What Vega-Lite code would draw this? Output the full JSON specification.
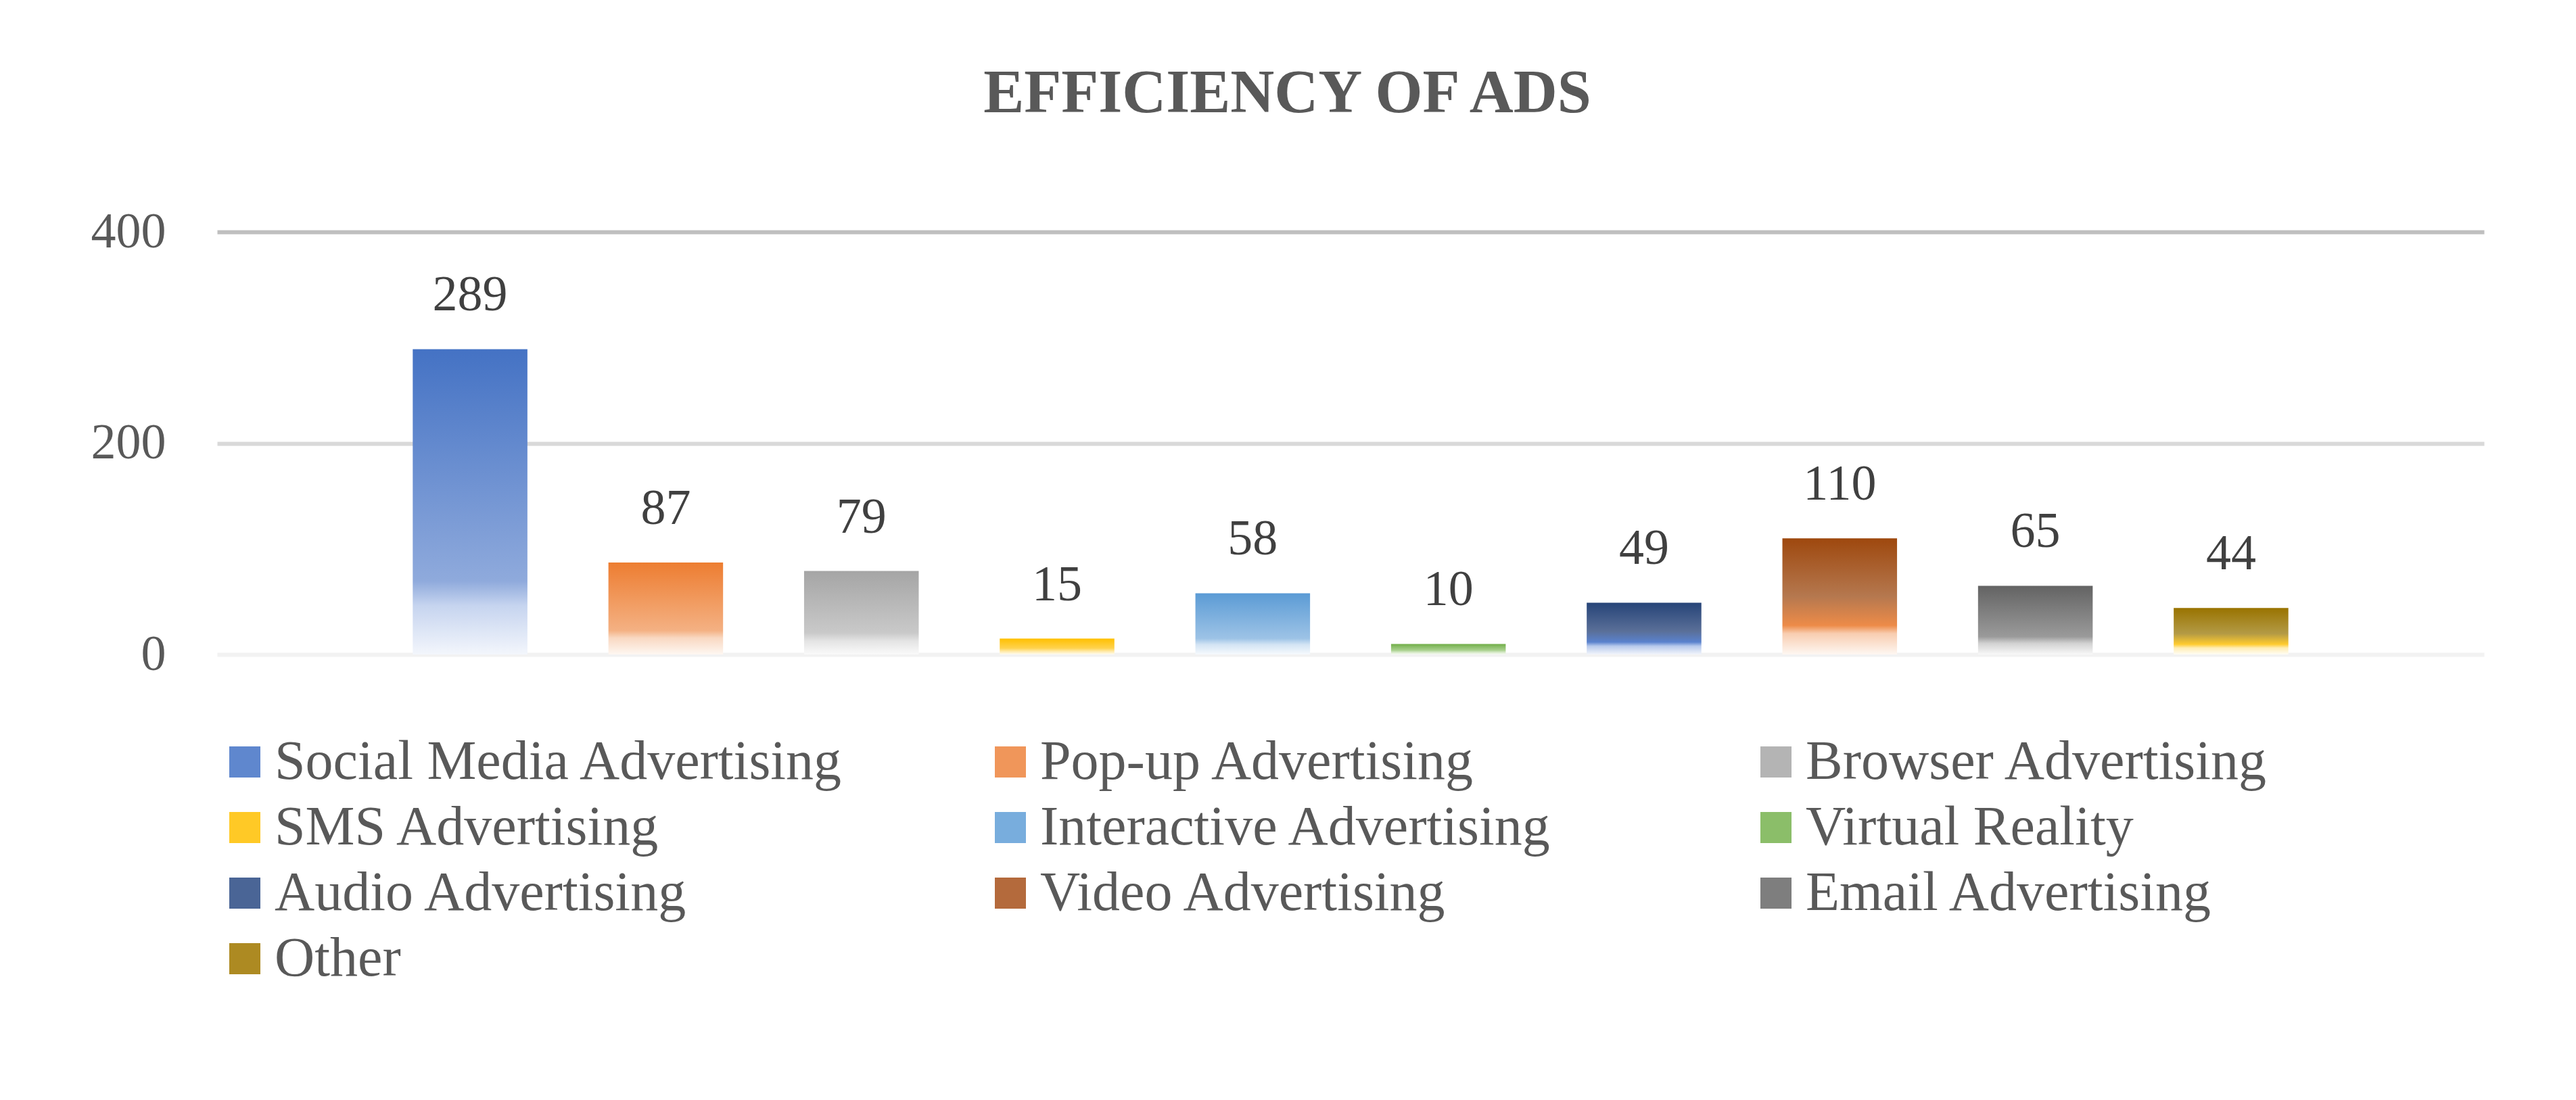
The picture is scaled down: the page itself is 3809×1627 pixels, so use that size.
{
  "$schema": "https://vega.github.io/schema/vega-lite/v6.json",
  "autosize": {"type": "none"},
  "width": 3352,
  "height": 625,
  "padding": {"left": 321, "top": 343, "right": 136, "bottom": 659},
  "background": "#ffffff",
  "params": [
    {
      "name": "grads",
      "expr": "{'Social Media Advertising': {gradient: 'linear', x1: 0, y1: 0, x2: 0, y2: 1, stops: [{offset: 0, color: '#4472C4'}, {offset: 0.76, color: '#8FAADC'}, {offset: 0.84, color: '#C6D4EF'}, {offset: 1, color: '#F3F6FC'}]}, 'Pop-up Advertising': {gradient: 'linear', x1: 0, y1: 0, x2: 0, y2: 1, stops: [{offset: 0, color: '#ED7D31'}, {offset: 0.74, color: '#F4B183'}, {offset: 0.82, color: '#F9D8C1'}, {offset: 1, color: '#FEF7F2'}]}, 'Browser Advertising': {gradient: 'linear', x1: 0, y1: 0, x2: 0, y2: 1, stops: [{offset: 0, color: '#A5A5A5'}, {offset: 0.74, color: '#C9C9C9'}, {offset: 0.84, color: '#E4E4E4'}, {offset: 1, color: '#FAFAFA'}]}, 'SMS Advertising': {gradient: 'linear', x1: 0, y1: 0, x2: 0, y2: 1, stops: [{offset: 0, color: '#FFC000'}, {offset: 0.6, color: '#FFD24D'}, {offset: 0.8, color: '#FFE9A6'}, {offset: 1, color: '#FFFCF2'}]}, 'Interactive Advertising': {gradient: 'linear', x1: 0, y1: 0, x2: 0, y2: 1, stops: [{offset: 0, color: '#5B9BD5'}, {offset: 0.74, color: '#9DC3E6'}, {offset: 0.84, color: '#D3E4F4'}, {offset: 1, color: '#F6FAFD'}]}, 'Virtual Reality': {gradient: 'linear', x1: 0, y1: 0, x2: 0, y2: 1, stops: [{offset: 0, color: '#70AD47'}, {offset: 0.6, color: '#A9D18E'}, {offset: 0.8, color: '#D7EAC9'}, {offset: 1, color: '#F7FBF4'}]}, 'Audio Advertising': {gradient: 'linear', x1: 0, y1: 0, x2: 0, y2: 1, stops: [{offset: 0, color: '#264478'}, {offset: 0.55, color: '#5A6F98'}, {offset: 0.76, color: '#5A82CE'}, {offset: 0.84, color: '#B8CAEC'}, {offset: 1, color: '#F2F5FB'}]}, 'Video Advertising': {gradient: 'linear', x1: 0, y1: 0, x2: 0, y2: 1, stops: [{offset: 0, color: '#9E480E'}, {offset: 0.5, color: '#B5784F'}, {offset: 0.75, color: '#ED8B48'}, {offset: 0.82, color: '#F8CDB0'}, {offset: 1, color: '#FEF7F2'}]}, 'Email Advertising': {gradient: 'linear', x1: 0, y1: 0, x2: 0, y2: 1, stops: [{offset: 0, color: '#636363'}, {offset: 0.74, color: '#9A9A9A'}, {offset: 0.84, color: '#D2D2D2'}, {offset: 1, color: '#F8F8F8'}]}, 'Other': {gradient: 'linear', x1: 0, y1: 0, x2: 0, y2: 1, stops: [{offset: 0, color: '#997300'}, {offset: 0.55, color: '#B39A45'}, {offset: 0.78, color: '#FFCB2E'}, {offset: 0.86, color: '#FFEDB3'}, {offset: 1, color: '#FFFDF5'}]}}"
    }
  ],
  "title": {
    "text": "EFFICIENCY OF ADS",
    "font": "Liberation Serif",
    "fontSize": 90,
    "fontWeight": "bold",
    "color": "#595959",
    "anchor": "middle",
    "frame": "bounds",
    "baseline": "alphabetic",
    "offset": 50
  },
  "data": {
    "values": [
      {"category": "Social Media Advertising", "value": 289},
      {"category": "Pop-up Advertising", "value": 87},
      {"category": "Browser Advertising", "value": 79},
      {"category": "SMS Advertising", "value": 15},
      {"category": "Interactive Advertising", "value": 58},
      {"category": "Virtual Reality", "value": 10},
      {"category": "Audio Advertising", "value": 49},
      {"category": "Video Advertising", "value": 110},
      {"category": "Email Advertising", "value": 65},
      {"category": "Other", "value": 44}
    ]
  },
  "encoding": {
    "x": {
      "field": "category",
      "type": "nominal",
      "sort": null,
      "axis": null,
      "scale": {"paddingInner": 0.414, "paddingOuter": 1.05}
    },
    "y": {
      "field": "value",
      "type": "quantitative",
      "scale": {"domain": [0, 400], "nice": false},
      "axis": {
        "values": [0, 200, 400],
        "title": null,
        "domain": false,
        "ticks": false,
        "labelFont": "Liberation Serif",
        "labelFontSize": 74,
        "labelColor": "#595959",
        "labelPadding": 76,
        "labelBaseline": "middle",
        "gridWidth": 6,
        "gridColor": {
          "condition": [
            {"test": "datum.value === 400", "value": "#bfbfbf"},
            {"test": "datum.value === 0", "value": "#f2f2f2"}
          ],
          "value": "#d9d9d9"
        }
      }
    }
  },
  "layer": [
    {
      "mark": {"type": "bar", "fill": {"expr": "grads[datum.category]"}, "strokeWidth": 0}
    },
    {
      "mark": {"type": "point", "filled": true, "opacity": 0, "size": 1},
      "encoding": {
        "color": {
          "field": "category",
          "type": "nominal",
          "scale": {
            "domain": ["Social Media Advertising", "Pop-up Advertising", "Browser Advertising", "SMS Advertising", "Interactive Advertising", "Virtual Reality", "Audio Advertising", "Video Advertising", "Email Advertising", "Other"],
            "range": ["#5F87CE", "#F0965A", "#B4B4B4", "#FFC926", "#78ADDD", "#8BBE69", "#4A6596", "#B46A3C", "#7E7E7E", "#AD8A22"]
          },
          "legend": {
            "title": null,
            "orient": "none",
            "legendX": 0,
            "legendY": 743,
            "direction": "horizontal",
            "columns": 3,
            "gridAlign": "all",
            "columnPadding": 204,
            "rowPadding": 15,
            "symbolType": "square",
            "symbolSize": 2116,
            "symbolStrokeWidth": 0,
            "symbolOpacity": 1,
            "labelFont": "Liberation Serif",
            "labelFontSize": 82,
            "labelColor": "#595959",
            "labelOffset": 3,
            "labelLimit": 3000,
            "padding": 0
          }
        }
      }
    },
    {
      "mark": {
        "type": "text",
        "font": "Liberation Serif",
        "fontSize": 74,
        "color": "#404040",
        "align": "center",
        "baseline": "alphabetic",
        "dy": -57
      },
      "encoding": {
        "text": {"field": "value", "type": "quantitative"}
      }
    }
  ],
  "config": {
    "view": {"stroke": null}
  }
}
